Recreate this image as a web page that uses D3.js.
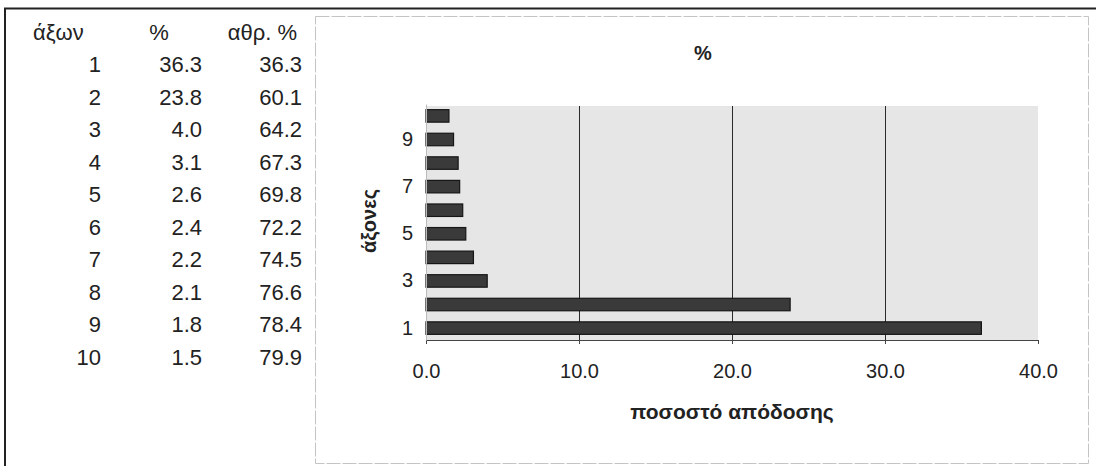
<!DOCTYPE html>
<html>
<head>
<meta charset="utf-8">
<script src="https://cdn.jsdelivr.net/npm/d3@7"></script>
<style>
  body { margin: 0; background: #fff; }
  svg { display: block; font-family: "Liberation Sans", Arial, sans-serif; }
</style>
</head>
<body>
<svg id="chart"></svg>
<script>
// table + bar data
const axes = [1, 2, 3, 4, 5, 6, 7, 8, 9, 10];
const pct = [36.3, 23.8, 4.0, 3.1, 2.6, 2.4, 2.2, 2.1, 1.8, 1.5];
const cumPct = [36.3, 60.1, 64.2, 67.3, 69.8, 72.2, 74.5, 76.6, 78.4, 79.9];
const headers = ["άξων", "%", "αθρ. %"];
const xTicks = [0, 10, 20, 30, 40];
const yTickLabels = [1, 3, 5, 7, 9];

const width = 1096;
const height = 466;

const svg = d3.select("#chart")
              .attr("width", width)
              .attr("height", height);

// outer frame
svg.append("line").attr("x1", 4).attr("x2", width).attr("y1", 8.5).attr("y2", 8.5)
   .attr("stroke", "#222").attr("stroke-width", 2);
svg.append("line").attr("x1", 5).attr("x2", 5).attr("y1", 8).attr("y2", height)
   .attr("stroke", "#222").attr("stroke-width", 2);

// chart frame (light)
svg.append("rect")
   .attr("x", 315.5).attr("y", 16.5)
   .attr("width", 1088 - 315).attr("height", 463 - 16)
   .attr("fill", "none").attr("stroke", "#c4c4c4").attr("stroke-width", 1)
   .attr("stroke-dasharray", "14,2");

// ---- table ----
const rowY = d3.scalePoint()
               .domain(["h"].concat(axes))
               .range([32, 357]);

const table = svg.append("g").attr("font-size", 22).attr("fill", "#222");

table.append("text").attr("x", 33).attr("y", rowY("h")).attr("dy", "0.36em")
     .attr("text-anchor", "start").text(headers[0]);
table.append("text").attr("x", 159).attr("y", rowY("h")).attr("dy", "0.36em")
     .attr("text-anchor", "middle").text(headers[1]);
table.append("text").attr("x", 297).attr("y", rowY("h")).attr("dy", "0.36em")
     .attr("text-anchor", "end").text(headers[2]);

const rows = table.selectAll(".row")
                  .data(axes)
                  .enter()
                  .append("g")
                  .attr("class", "row")
                  .attr("transform", d => `translate(0, ${rowY(d)})`);

rows.append("text").attr("x", 101).attr("dy", "0.36em").attr("text-anchor", "end")
    .text(d => d);
rows.append("text").attr("x", 202).attr("dy", "0.36em").attr("text-anchor", "end")
    .text((d, i) => pct[i].toFixed(1));
rows.append("text").attr("x", 302).attr("dy", "0.36em").attr("text-anchor", "end")
    .text((d, i) => cumPct[i].toFixed(1));

// ---- bar chart ----
const plot = { left: 426, right: 1038, top: 104, bottom: 340 };

const xScale = d3.scaleLinear()
                 .domain([0, 40])
                 .range([plot.left, plot.right]);

const yScale = d3.scaleBand()
                 .domain(axes)
                 .range([plot.bottom, plot.top])
                 .paddingInner(0.47)
                 .paddingOuter(0.24);

svg.append("rect")
   .attr("x", plot.left).attr("y", 106)
   .attr("width", plot.right - plot.left).attr("height", plot.bottom - 106)
   .attr("fill", "#e6e6e6");

// vertical gridlines
svg.append("g")
   .selectAll("line")
   .data(xTicks.slice(1, -1))
   .enter()
   .append("line")
   .attr("x1", d => xScale(d) + 0.5).attr("x2", d => xScale(d) + 0.5)
   .attr("y1", 106).attr("y2", plot.bottom)
   .attr("stroke", "#2a2a2a").attr("stroke-width", 1);

// bars
svg.selectAll(".bar")
   .data(axes)
   .enter()
   .append("rect")
   .attr("class", "bar")
   .attr("x", xScale(0))
   .attr("y", d => yScale(d))
   .attr("width", (d, i) => xScale(pct[i]) - xScale(0))
   .attr("height", yScale.bandwidth())
   .attr("fill", "#3a3a3a")
   .attr("stroke", "#161616")
   .attr("stroke-width", 1.2);

// x axis
const xAxis = svg.append("g")
   .attr("transform", `translate(0, ${plot.bottom})`)
   .call(d3.axisBottom(xScale).tickValues(xTicks).tickFormat(d3.format(".1f"))
           .tickSize(4).tickPadding(20));
xAxis.select(".domain").attr("stroke", "#444");
xAxis.selectAll(".tick line").attr("stroke", "#444");
xAxis.selectAll("text").attr("font-size", 20).attr("fill", "#222")
     .attr("font-family", "Liberation Sans, Arial, sans-serif");

// y axis
const yAxis = svg.append("g")
   .attr("transform", `translate(${plot.left}, 0)`)
   .call(d3.axisLeft(yScale).tickValues(yTickLabels).tickSize(0).tickPadding(13));
yAxis.select(".domain").attr("stroke", "#bbb");
yAxis.selectAll("text").attr("font-size", 20).attr("fill", "#222")
     .attr("font-family", "Liberation Sans, Arial, sans-serif");

// titles
svg.append("text")
   .attr("x", 703).attr("y", 53).attr("dy", "0.36em")
   .attr("text-anchor", "middle").attr("font-weight", "bold").attr("font-size", 20)
   .attr("fill", "#222")
   .text("%");

svg.append("text")
   .attr("x", (plot.left + plot.right) / 2).attr("y", 411).attr("dy", "0.36em")
   .attr("text-anchor", "middle").attr("font-weight", "bold").attr("font-size", 21)
   .attr("fill", "#222")
   .text("ποσοστό απόδοσης");

svg.append("text")
   .attr("transform", `translate(376, ${(plot.top + plot.bottom) / 2 - 1}) rotate(-90)`)
   .attr("text-anchor", "middle").attr("font-weight", "bold").attr("font-size", 20)
   .attr("fill", "#222")
   .text("άξονες");
</script>
</body>
</html>
